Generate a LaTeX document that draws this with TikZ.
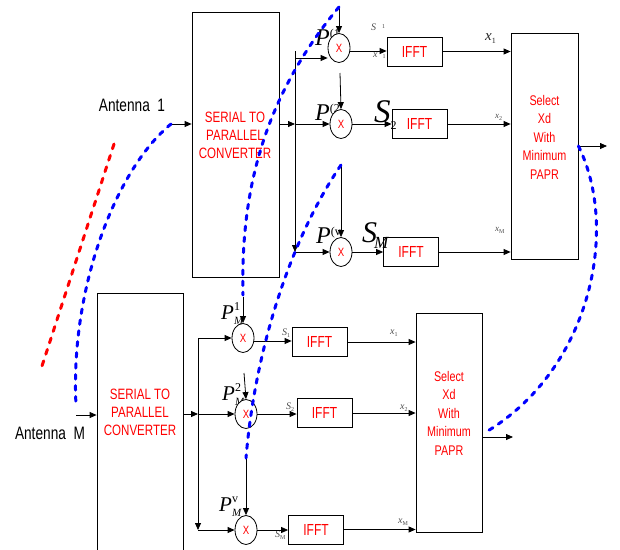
\documentclass[tikz,border=0pt]{standalone}
\usepackage{fontspec}
\setmainfont{Liberation Sans}
\newfontfamily\tms{Liberation Serif}
\usepackage{graphicx}
\usetikzlibrary{shapes.geometric,arrows.meta}
\newcommand\sqz[2][0.77]{\scalebox{#1}[1]{#2}}
\newcommand\Plab[1]{{\tms\fontsize{24}{24}\selectfont\itshape P}\raisebox{8pt}{\tms\fontsize{12}{12}\selectfont #1}}
\newcommand\PMlab[1]{{\tms\fontsize{21}{21}\selectfont\itshape P}\rlap{\raisebox{9pt}{\tms\fontsize{12}{12}\selectfont #1}}\raisebox{-5pt}{\tms\fontsize{11}{11}\selectfont\itshape M}}
\newcommand\tinylab[3]{{\tms\fontsize{#3}{#3}\selectfont\itshape #1}\raisebox{-2pt}{\tms\fontsize{6}{6}\selectfont #2}}
\begin{document}
\begin{tikzpicture}[x=1pt,y=-1pt,
  blk/.style={draw, line width=0.8pt, inner sep=0pt},
  redtxt/.style={text=red, align=center, inner sep=0pt},
  ifft/.style={blk, minimum width=55pt, minimum height=29pt, text=red, font=\fontsize{16}{16}\selectfont},
  mult/.style={draw, ellipse, line width=0.8pt, minimum width=22pt, minimum height=29pt, inner sep=0pt, fill=white, text=red, font=\fontsize{12}{12}\selectfont},
  arr/.style={-{Triangle[length=7pt,width=6pt]}, line width=0.8pt},
  ln/.style={line width=0.8pt},
  bluedash/.style={draw=blue, line width=3pt, line cap=round, dash pattern=on 4.5pt off 6.5pt},
  reddash/.style={draw=red, line width=3pt, line cap=round, dash pattern=on 5pt off 7pt},
  lbl/.style={inner sep=0pt, font=\fontsize{18}{18}\selectfont},
  gl/.style={inner sep=0pt, anchor=base west, text=black!70}
]
\useasboundingbox (0,0) rectangle (620,549);
\clip (0,0) rectangle (620,549);

% ---------- boxes ----------
\node[blk, minimum width=87pt, minimum height=265pt] (sp1) at (235.5,144.5) {};
\node[redtxt, font=\fontsize{15}{18}\selectfont] (sp1t) at (235,135) {\sqz{SERIAL TO}\\\sqz{PARALLEL}\\\sqz{CONVERTER}};
\node[blk, minimum width=86pt, minimum height=270pt] (sp2) at (140,428) {};
\node[redtxt, font=\fontsize{15}{18}\selectfont] (sp2t) at (140,412) {\sqz{SERIAL TO}\\\sqz{PARALLEL}\\\sqz{CONVERTER}};
\node[blk, minimum width=67pt, minimum height=226pt] (sel1) at (544.5,146) {};
\node[redtxt, font=\fontsize{14}{18.5}\selectfont] (sel1t) at (544.5,137) {\sqz{Select}\\\sqz{Xd}\\\sqz{With}\\\sqz{Minimum}\\\sqz{PAPR}};
\node[blk, minimum width=66pt, minimum height=219pt] (sel2) at (449,422.5) {};
\node[redtxt, font=\fontsize{14}{18.5}\selectfont] (sel2t) at (449,413) {\sqz{Select}\\\sqz{Xd}\\\sqz{With}\\\sqz{Minimum}\\\sqz{PAPR}};

\node[ifft] (f1) at (414.5,51.5) {\sqz[0.75]{IFFT}};
\node[ifft] (f2) at (419.5,124) {\sqz[0.75]{IFFT}};
\node[ifft] (f3) at (411,252) {\sqz[0.75]{IFFT}};
\node[ifft] (f4) at (319.5,342) {\sqz[0.75]{IFFT}};
\node[ifft] (f5) at (324.5,413) {\sqz[0.75]{IFFT}};
\node[ifft] (f6) at (316,529.5) {\sqz[0.75]{IFFT}};

% ---------- labels drawn beneath the multipliers ----------
\node[inner sep=0pt, anchor=base west] (p1) at (315,45) {\Plab{(1}};
\node[inner sep=0pt, anchor=base west] (p2) at (315,120) {\Plab{(2}};
\node[inner sep=0pt, anchor=base west] (pv) at (316,243) {\Plab{(v}};
\node[inner sep=0pt, anchor=base west] (pm1) at (221,319) {\PMlab{1}};
\node[inner sep=0pt, anchor=base west] (pm2) at (222,400) {\PMlab{2}};
\node[inner sep=0pt, anchor=base west] (pmv) at (219,511) {\PMlab{v}};

% ---------- multipliers ----------
\node[mult] (c1) at (339,48) {\sqz[0.8]{X}};
\node[mult] (c2) at (341,124) {\sqz[0.8]{X}};
\node[mult] (c3) at (341,252) {\sqz[0.8]{X}};
\node[mult] (c4) at (243,338) {\sqz[0.8]{X}};
\node[mult] (c5) at (246,414) {\sqz[0.8]{X}};
\node[mult] (c6) at (246,530) {\sqz[0.8]{X}};

% ---------- text labels ----------
\node[lbl] (ant1) at (132,105) {\sqz[0.76]{Antenna\ \ 1}};
\node[lbl] (antm) at (50,433) {\sqz[0.76]{Antenna\ \ M}};

\node[gl] (s1a) at (371,30) {{\tms\fontsize{10}{10}\selectfont\itshape S}\hspace{6pt}\raisebox{2pt}{\tms\fontsize{6}{6}\selectfont 1}};
\node[gl] (x1a) at (373,57) {{\tms\fontsize{10}{10}\selectfont\itshape x}\hspace{5pt}\raisebox{-1pt}{\tms\fontsize{6}{6}\selectfont 1}};
\node[inner sep=0pt, anchor=base west] (s2a) at (374,122) {{\tms\fontsize{33}{33}\selectfont\itshape S}\raisebox{-7pt}{\tms\fontsize{12}{12}\selectfont 2}};
\node[inner sep=0pt, anchor=base west] (sma) at (362,242) {{\tms\fontsize{30}{30}\selectfont\itshape S}\kern-3pt\raisebox{-6pt}{\tms\fontsize{17}{17}\selectfont\itshape M}};
\node[gl, text=black!85] (x1b) at (485,40) {{\tms\fontsize{15}{15}\selectfont\itshape x}\raisebox{-3pt}{\tms\fontsize{8}{8}\selectfont 1}};
\node[gl] (x2b) at (495,118) {\tinylab{x}{2}{9}};
\node[gl] (xmb) at (495,231) {\tinylab{x}{M}{9}};

\node[gl] (s1c) at (282,335) {\tinylab{S}{1}{10}};
\node[gl] (x1c) at (390,334) {\tinylab{x}{1}{10}};
\node[gl] (s2c) at (286,409) {\tinylab{S}{2}{10}};
\node[gl] (x2c) at (400,409) {\tinylab{x}{2}{10}};
\node[gl] (smc) at (275,537) {\tinylab{S}{M}{10}};
\node[gl] (xmc) at (398,523) {\tinylab{x}{M}{10}};

% ---------- coordinates ----------
\coordinate (a1) at (171,124);
\coordinate (aM) at (76,415);
\coordinate (bus1t) at (295,51);
\coordinate (bus1b) at (295,252);
\coordinate (j11) at (295,58);
\coordinate (bus2t) at (198,338);
\coordinate (bus2b) at (198,530);
\coordinate (v1) at (339,7);
\coordinate (v2) at (340,73);
\coordinate (v3) at (341,165);
\coordinate (v4) at (243,297);
\coordinate (v5) at (244,373);
\coordinate (v6) at (246,458);
\coordinate (o1) at (607,146);
\coordinate (o2) at (513,437);
\coordinate (ra) at (114,144);
\coordinate (rb) at (42,366);
\coordinate (b1e) at (76,405);
\coordinate (b2e) at (243,295);
\coordinate (b4e) at (486,432);

% ---------- top chain ----------
\draw[arr] (a1) -- (a1 -| sp1.west);
\draw[arr] (sp1.east |- c2) -- (bus1t |- c2);
\draw[arr] (bus1t) -- (bus1b);
\draw[arr] (j11) -- (j11 -| c1.west);
\draw[arr] (bus1t |- c2) -- (c2.west);
\draw[arr] (bus1b) -- (c3.west);
\draw[arr] (v1) -- (c1.north);
\draw[arr] (v2) -- (c2.north);
\draw[arr] (v3) -- (c3.north);
\draw[arr] (c1.-15) -- (c1.-15 -| f1.west);
\draw[arr] (c2.east) -- (f2.west);
\draw[arr] (c3.east) -- (f3.west);
\draw[arr] (f1.east) -- (f1.east -| sel1.west);
\draw[arr] (f2.east) -- (f2.east -| sel1.west);
\draw[arr] (f3.east) -- (f3.east -| sel1.west);
\draw[arr] (sel1.east) -- (o1);

% ---------- bottom chain ----------
\draw[arr] (aM) -- (aM -| sp2.west);
\draw[arr] (sp2.east |- c5) -- (bus2t |- c5);
\draw[arr] (bus2t) -- (bus2b);
\draw[arr] (bus2t) -- (c4.west);
\draw[arr] (bus2t |- c5) -- (c5.west);
\draw[arr] (bus2b) -- (c6.west);
\draw[arr] (v4) -- (c4.north);
\draw[arr] (v5) -- (c5.north);
\draw[arr] (v6) -- (c6.north);
\draw[arr] (c4.-15) -- (c4.-15 -| f4.west);
\draw[arr] (c5.east) -- (c5.east -| f5.west);
\draw[arr] (c6.east) -- (c6.east -| f6.west);
\draw[arr] (f4.east) -- (f4.east -| sel2.west);
\draw[arr] (f5.east) -- (f5.east -| sel2.west);
\draw[arr] (f6.east) -- (f6.east -| sel2.west);
\draw[arr] (sel2.east |- o2) -- (o2);

% ---------- dashed links ----------
\draw[reddash] (ra) -- (rb);
\draw[bluedash] (a1) .. controls (115,170) and (70,290) .. (b1e);
\draw[bluedash] (v1) .. controls (270,90) and (240,180) .. (b2e);
\draw[bluedash] (v3) .. controls (290,240) and (255,350) .. (v6);
\draw[bluedash] (sel1.east) .. controls (620,230) and (590,370) .. (b4e);
\end{tikzpicture}
\end{document}
